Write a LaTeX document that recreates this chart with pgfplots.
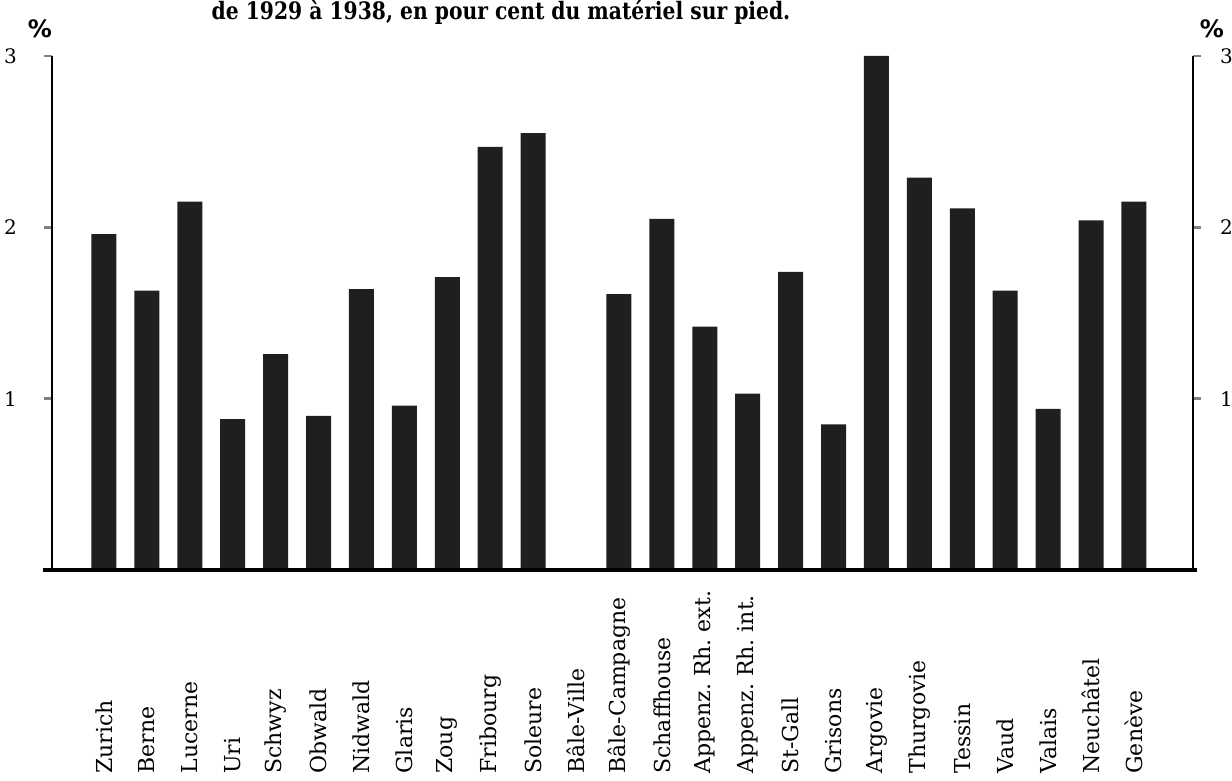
\documentclass[border=0pt]{standalone}
\usepackage{fontspec}
\setmainfont{DejaVu Serif}
\newfontfamily\pctfont{DejaVu Sans}
\usepackage{pgfplots}
\pgfplotsset{compat=1.18}

\begin{document}
\begin{tikzpicture}
\useasboundingbox (0,0) rectangle (616pt,390.5pt);

% title (top cut off in the original scan)
\node[anchor=base, font=\bfseries\fontsize{12}{12}\selectfont] at (250.5pt,380.5pt)
  {\scalebox{0.845}[1]{de 1929 à 1938,\ en pour cent du matériel sur pied.}};
\node[font=\pctfont\bfseries\fontsize{12}{12}\selectfont] at (20pt,376pt) {\%};
\node[font=\pctfont\bfseries\fontsize{12}{12}\selectfont] at (606pt,376pt) {\%};

% left axis + bars
\begin{axis}[
  at={(26pt,105.5pt)}, anchor=south west,
  scale only axis, width=570.5pt, height=257pt,
  xmin=-1.21, xmax=25.375, ymin=0, ymax=3,
  axis y line*=left, axis x line*=bottom,
  y axis line style={-, line width=1.4pt},
  x axis line style={draw=none},
  ytick={1,2,3}, yticklabels={1,2,3},
  tick align=outside, major tick length=4pt,
  ytick style={line width=1.2pt},
  xtick style={draw=none},
  yticklabel style={font=\fontsize{10}{10}\selectfont},
  yticklabel shift=10pt,
  xtick={0,...,24},
  xticklabels={Zurich,Berne,Lucerne,Uri,Schwyz,Obwald,Nidwald,Glaris,Zoug,Fribourg,Soleure,Bâle-Ville,Bâle-Campagne,Schaffhouse,Appenz.\ Rh.\ ext.,Appenz.\ Rh.\ int.,St-Gall,Grisons,Argovie,Thurgovie,Tessin,Vaud,Valais,Neuchâtel,Genève},
  xticklabel style={rotate=90, anchor=west, inner sep=0pt, xshift=1pt, font=\fontsize{11}{11}\selectfont},
  xticklabel shift=99pt,
  clip=false,
]
\addplot[ybar, bar width=12.5pt, fill=black!88, draw=none] coordinates {
  (0,1.96) (1,1.63) (2,2.15) (3,0.88) (4,1.26) (5,0.90) (6,1.64) (7,0.96)
  (8,1.71) (9,2.47) (10,2.55)
  (12,1.61) (13,2.05) (14,1.42) (15,1.03) (16,1.74) (17,0.85) (18,3.00)
  (19,2.29) (20,2.11) (21,1.63) (22,0.94) (23,2.04) (24,2.15)
};
% base line, runs a little past both axes
\draw[line width=2pt] (rel axis cs:-0.0075,0) -- (rel axis cs:1.0035,0);
\end{axis}

% right axis
\begin{axis}[
  at={(26pt,105.5pt)}, anchor=south west,
  scale only axis, width=570.5pt, height=257pt,
  xmin=-1.21, xmax=25.375, ymin=0, ymax=3,
  axis y line*=right, axis x line=none,
  y axis line style={-, line width=1.4pt},
  ytick={1,2,3}, yticklabels={1,2,3},
  tick align=outside, major tick length=4pt,
  ytick style={line width=1.2pt},
  yticklabel style={font=\fontsize{10}{10}\selectfont},
  yticklabel shift=6pt,
]
\end{axis}
\end{tikzpicture}
\end{document}
